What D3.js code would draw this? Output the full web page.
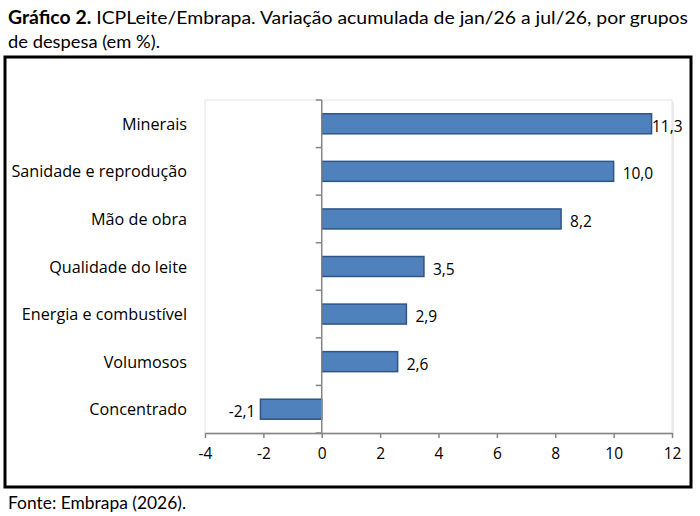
<!DOCTYPE html>
<html>
<head>
<meta charset="utf-8">
<script src="https://cdn.jsdelivr.net/npm/d3@7"></script>
<style>
  body { margin: 0; background: #fff; }
  text { font-family: Lato, "Open Sans", sans-serif; }
  .chartText { font-family: "Open Sans", sans-serif; }
</style>
</head>
<body>
<svg id="chart" width="700" height="516"></svg>
<script>
// valores (%)
var categories = ['Minerais', 'Sanidade e reprodução', 'Mão de obra', 'Qualidade do leite',
  'Energia e combustível', 'Volumosos', 'Concentrado']
var values = [11.3, 10.0, 8.2, 3.5, 2.9, 2.6, -2.1]
var xTicks = [-4, -2, 0, 2, 4, 6, 8, 10, 12]

var data = categories.map(function (c, i) { return { name: c, value: values[i] } })

var svg = d3.select('#chart')
var margin = { top: 100, left: 205, right: 28, bottom: 83 }
var width = +svg.attr('width') - margin.left - margin.right,
  height = +svg.attr('height') - margin.top - margin.bottom

var fmt = function (v) { return d3.format('.1f')(v).replace('.', ',').replace('−', '-') }

// titulo
var title = svg.append('text').attr('x', 8).attr('y', 24).attr('font-size', 18).attr('fill', '#000')
  .attr('textLength', 680).attr('lengthAdjust', 'spacingAndGlyphs')
title.append('tspan').attr('font-weight', 'bold').text('Gráfico 2.')
title.append('tspan').text(' ICPLeite/Embrapa. Variação acumulada de jan/26 a jul/26, por grupos')
svg.append('text').attr('x', 8).attr('y', 48).attr('font-size', 18)
  .attr('textLength', 152).attr('lengthAdjust', 'spacingAndGlyphs')
  .text('de despesa (em %).')

// moldura
svg.append('rect')
  .attr('x', 5).attr('y', 57).attr('width', 686).attr('height', 430)
  .attr('fill', 'none').attr('stroke', '#000').attr('stroke-width', 3)

svg.append('text').attr('x', 8).attr('y', 509).attr('font-size', 17)
  .attr('textLength', 178).attr('lengthAdjust', 'spacingAndGlyphs')
  .text('Fonte: Embrapa (2026).')

var x = d3.scaleLinear().domain([-4, 12]).range([0, width])
var y = d3.scaleBand().domain(categories).range([0, height]).paddingInner(0.58).paddingOuter(0.29)

var g = svg.append('g').attr('transform', 'translate(' + margin.left + ',' + margin.top + ')')

// area de plotagem
g.append('rect')
  .attr('x', 2).attr('y', 2).attr('width', width).attr('height', height)
  .attr('fill', '#ececec')
g.append('rect')
  .attr('width', width).attr('height', height)
  .attr('fill', '#fff').attr('stroke', '#e4e4e4')

// barras
g.append('g')
  .selectAll('rect')
  .data(data)
  .enter().append('rect')
  .attr('x', function (d) { return x(Math.min(0, d.value)) })
  .attr('y', function (d) { return y(d.name) })
  .attr('width', function (d) { return Math.abs(x(d.value) - x(0)) })
  .attr('height', y.bandwidth())
  .attr('fill', '#4f81bd')
  .attr('stroke', '#2f5585')
  .attr('stroke-width', 1.5)

// rotulos de dados
g.append('g')
  .selectAll('text')
  .data(data)
  .enter().append('text')
  .attr('class', 'chartText')
  .attr('x', function (d) {
    if (d.value < 0) return x(d.value) - 5
    return Math.min(x(d.value) + 9, width - 20)
  })
  .attr('y', function (d) { return y(d.name) + y.bandwidth() / 2 + 8 })
  .attr('text-anchor', function (d) { return d.value < 0 ? 'end' : 'start' })
  .attr('font-size', 15.5)
  .attr('fill', '#000')
  .text(function (d) { return fmt(d.value) })

// eixo x
var xAxis = g.append('g')
  .attr('transform', 'translate(0,' + height + ')')
  .call(d3.axisBottom(x).tickValues(xTicks).tickSize(5).tickSizeOuter(0).tickPadding(10)
    .tickFormat(function (d) { return String(d) }))
xAxis.select('.domain').attr('stroke', '#868686').attr('stroke-width', 1.5)
xAxis.selectAll('line').attr('stroke', '#868686').attr('stroke-width', 1.5)
xAxis.selectAll('text').attr('font-size', 15.5).attr('fill', '#000')
  .style('font-family', '"Open Sans", sans-serif')

// eixo y no zero
var bounds = d3.range(categories.length + 1).map(function (i) { return i * y.step() })
g.append('line')
  .attr('x1', x(0)).attr('x2', x(0)).attr('y1', 0).attr('y2', height)
  .attr('stroke', '#868686').attr('stroke-width', 1.5)
g.append('g')
  .selectAll('line')
  .data(bounds)
  .enter().append('line')
  .attr('x1', x(0) - 6).attr('x2', x(0))
  .attr('y1', function (d) { return d }).attr('y2', function (d) { return d })
  .attr('stroke', '#868686').attr('stroke-width', 1.5)

// categorias
g.append('g')
  .selectAll('text')
  .data(data)
  .enter().append('text')
  .attr('class', 'chartText')
  .attr('x', -18)
  .attr('y', function (d) { return y(d.name) + y.bandwidth() / 2 + 6 })
  .attr('text-anchor', 'end')
  .attr('font-size', 16.2)
  .attr('fill', '#000')
  .text(function (d) { return d.name })
</script>
</body>
</html>
